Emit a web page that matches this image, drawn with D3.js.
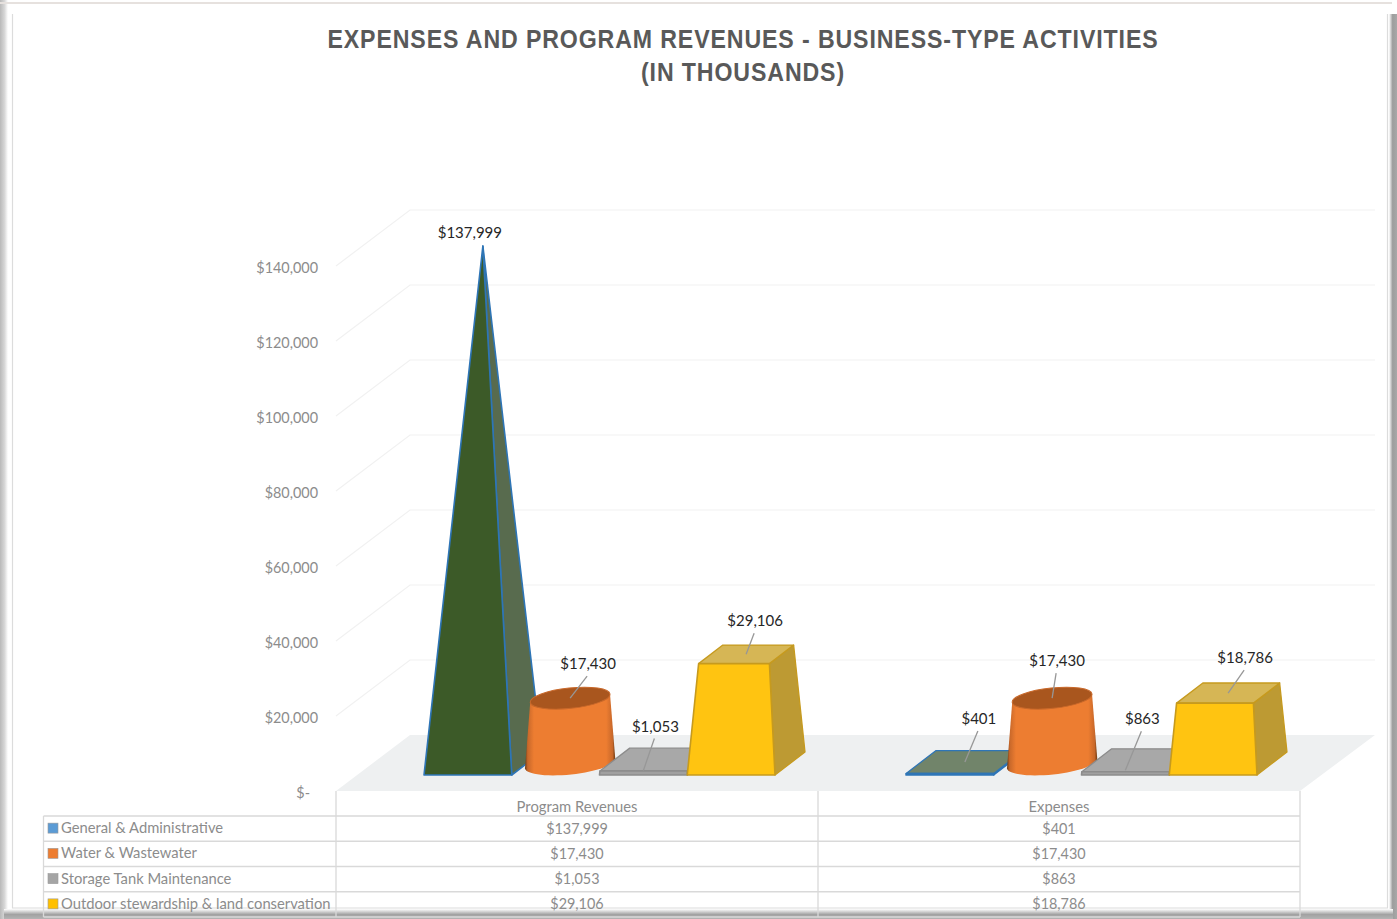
<!DOCTYPE html>
<html>
<head>
<meta charset="utf-8">
<script src="https://cdn.jsdelivr.net/npm/d3@7/dist/d3.min.js"></script>
<style>
  html, body { margin: 0; padding: 0; background: #fff; }
  svg { display: block; }
  text { font-family: Lato, "Open Sans", sans-serif; }
</style>
</head>
<body>
<svg id="chart" width="1397" height="919"></svg>
<script>
const titleLines = ["EXPENSES AND PROGRAM REVENUES - BUSINESS-TYPE ACTIVITIES", "(IN THOUSANDS)"];
const categories = ["Program Revenues", "Expenses"];
const seriesNames = ["General & Administrative", "Water & Wastewater", "Storage Tank Maintenance", "Outdoor stewardship & land conservation"];
const programRevenues = [137999, 17430, 1053, 29106];
const expenses = [401, 17430, 863, 18786];
const axisTicks = [0, 20000, 40000, 60000, 80000, 100000, 120000, 140000];
const legendColors = ["#5b9bd5", "#ed7d31", "#a5a5a5", "#ffc000"];

const W = 1397, H = 919;
const svg = d3.select("#chart");
const money = d3.format("$,");
const tickFormat = v => v === 0 ? "$-" : money(v);

// Plot geometry of the 3-D box
const plot = { left: 336, right: 1300, depthX: 74, depthY: 56, floor: 791 };
const yFront = d3.scaleLinear().domain([0, 140000]).range([plot.floor, plot.floor - 525]);
const yBack = yFront.copy().range([plot.floor - plot.depthY, plot.floor - plot.depthY - 525]);
const heightOf = v => v * 525 / 140000;
const x0 = d3.scaleBand().domain(categories).range([plot.left, plot.right]);
const barBand = d3.scaleBand().domain(seriesNames).range([-153, 198]);

// Bars stand on a line inset from the front of the floor
const baseY = 775, depth = { x: 30, y: -23 };
const taper = h => 1 - h * 0.00177;

const defs = svg.append("defs");
const cyl = defs.append("linearGradient").attr("id", "cylSide");
[[0, "#6f3a12"], [0.03, "#c8682a"], [0.1, "#ed7d31"], [0.9, "#ed7d31"], [0.97, "#c8682a"], [1, "#6f3a12"]]
  .forEach(([o, c]) => cyl.append("stop").attr("offset", o).attr("stop-color", c));

// Soft bevel bands for the page frame
function band(id, horizontal, stops) {
  const g = defs.append("linearGradient").attr("id", id)
    .attr("x1", 0).attr("y1", 0).attr("x2", horizontal ? 1 : 0).attr("y2", horizontal ? 0 : 1);
  stops.forEach(([o, c]) => g.append("stop").attr("offset", o).attr("stop-color", c));
}
band("frameLeft", true, [[0, "#b9b9b9"], [0.55, "#d6d6d6"], [1, "#ffffff"]]);
band("frameRight", true, [[0, "#ffffff"], [0.45, "#9d9d9d"], [1, "#a8a8a8"]]);
band("frameBottom", false, [[0, "#ffffff"], [0.55, "#a2a2a2"], [1, "#b4b4b4"]]);

// Page frame
const frame = svg.append("g");
frame.append("rect").attr("width", W).attr("height", H).attr("fill", "#fff");
frame.append("rect").attr("x", 0).attr("y", 0).attr("width", 8).attr("height", H).attr("fill", "url(#frameLeft)");
frame.append("rect").attr("x", 1389).attr("y", 14).attr("width", 8).attr("height", H - 14).attr("fill", "url(#frameRight)");
frame.append("rect").attr("x", 4).attr("y", 909).attr("width", W - 8).attr("height", 10).attr("fill", "url(#frameBottom)");
frame.append("rect").attr("x", 0).attr("y", 2).attr("width", W - 5).attr("height", 2).attr("fill", "#e6e1de");
frame.append("path").attr("fill", "none").attr("stroke", "#dcdcdc").attr("stroke-width", 1.2)
  .attr("d", "M12.5,14V908H1387.5V14");

const chart = svg.append("g");

// Title
chart.append("g").selectAll("text").data(titleLines).join("text")
  .attr("transform", (d, i) => `translate(743,${48 + i * 33}) scale(0.89,1)`)
  .attr("text-anchor", "middle")
  .attr("fill", "#595959")
  .style("font-family", '"Liberation Sans", sans-serif')
  .style("font-weight", 700).style("font-size", "26px").style("letter-spacing", "1px")
  .text(d => d);

// Walls: horizontal grid on the back, diagonals on the left side
const grid = chart.append("g").attr("stroke", "#f1f1f1").attr("stroke-width", 1.2).attr("fill", "none");
grid.selectAll("path").data(axisTicks.slice(1)).join("path")
  .attr("d", v => `M${plot.left},${yFront(v)}L${plot.left + plot.depthX},${yBack(v)}H${plot.right + plot.depthX + 1}`);

// Floor
chart.append("polygon").attr("fill", "#eef0f1").attr("points", [
  [plot.left, plot.floor], [plot.right, plot.floor],
  [plot.right + plot.depthX + 1, plot.floor - plot.depthY], [plot.left + plot.depthX, plot.floor - plot.depthY]
].join(" "));

// Value axis
const axis = chart.append("g").attr("transform", "translate(321,1.5)")
  .call(d3.axisLeft(yFront).tickValues(axisTicks).tickFormat(tickFormat).tickSize(0).tickPadding(3));
axis.select(".domain").remove();
axis.selectAll("text").attr("fill", "#8c8c8c").style("font-size", "14.4px");
axis.select(".tick text").attr("dx", -8);

// Bar shapes
const styles = {
  pyramid: { front: "#3c5a28", side: "#586b4e", top: "#71846a", stroke: "#2e75b6" },
  cylinder: { top: "#a9561e", stroke: "#c8682a" },
  boxGray: { front: "#a0a0a0", side: "#8d8d8d", top: "#a8a8a8", stroke: "#8c8c8c" },
  boxGold: { front: "#ffc411", side: "#bd9a33", top: "#d6b655", stroke: "#c69a1e" }
};
const shapeOf = ["pyramid", "cylinder", "boxGray", "boxGold"];

const pts = a => a.map(p => p.join(",")).join(" ");

function frustum(g, fx, w, v, st) {
  const h = heightOf(v), s = taper(h);
  const cx = fx + depth.x / 2, cy = baseY + depth.y / 2 - h;
  const hw = w / 2 * s, dx = depth.x / 2 * s, dy = depth.y / 2 * s;
  const tfl = [cx - hw - dx, cy - dy], tfr = [cx + hw - dx, cy - dy];
  const tbl = [cx - hw + dx, cy + dy], tbr = [cx + hw + dx, cy + dy];
  const bl = [fx - w / 2, baseY], br = [fx + w / 2, baseY], bb = [fx + w / 2 + depth.x, baseY + depth.y];
  const face = (p, fill, sw) => g.append("polygon").attr("points", pts(p)).attr("fill", fill)
    .attr("stroke", st.stroke).attr("stroke-width", sw).attr("stroke-linejoin", "round");
  face([br, bb, tbr, tfr], st.side, 1.3);
  face([tfl, tfr, tbr, tbl], st.top, 1.3);
  face([bl, br, tfr, tfl], st.front, 1.6);
  return { x: cx, y: cy };
}

function pyramid(g, fx, w, v, st) {
  // A tall value draws as a pointed pyramid; a tiny one reads as a flat slab
  const h = heightOf(v);
  if (h < 10) return frustum(g, fx, w, v, { ...st, front: st.stroke, side: st.stroke });
  const cx = fx + depth.x / 2, cy = baseY + depth.y / 2 - h;
  const apex = [cx, cy];
  const bl = [fx - w / 2, baseY], br = [fx + w / 2, baseY], bb = [fx + w / 2 + depth.x, baseY + depth.y];
  g.append("polygon").attr("points", pts([br, bb, apex])).attr("fill", st.side)
    .attr("stroke", st.stroke).attr("stroke-width", 1.6).attr("stroke-linejoin", "round");
  g.append("polygon").attr("points", pts([bl, br, apex])).attr("fill", st.front)
    .attr("stroke", st.stroke).attr("stroke-width", 1.6).attr("stroke-linejoin", "round");
  return { x: cx, y: cy };
}

function cylinder(g, fx, w, v, st) {
  const h = heightOf(v), s = taper(h);
  const cx = fx + depth.x / 2 - 0.5, by = baseY + depth.y / 2, ty = by - h;
  const rb = w / 2 + 1.5, ryb = 11, rt = rb * s, ryt = 10.2, tilt = 6 * Math.PI / 180;
  const ex = (c, y, r, ry, a) => [c + r * Math.cos(a) * Math.cos(tilt) + ry * Math.sin(a) * Math.sin(tilt),
                                  y - r * Math.cos(a) * Math.sin(tilt) + ry * Math.sin(a) * Math.cos(tilt)];
  const outline = [];
  d3.range(0, 181, 6).forEach(d => outline.push(ex(cx, by, rb, ryb, d * Math.PI / 180)));
  outline.push(ex(cx, ty, rt, ryt, Math.PI), ex(cx, ty, rt, ryt, 0));
  g.append("polygon").attr("points", pts(outline)).attr("fill", "url(#cylSide)");
  g.append("ellipse").attr("rx", rt).attr("ry", ryt).attr("fill", st.top)
    .attr("stroke", st.stroke).attr("stroke-width", 1)
    .attr("transform", `translate(${cx},${ty}) rotate(-6)`);
  return { x: cx, y: ty };
}

const barData = [programRevenues, expenses];
// Label centre and leader tip, as offsets from the top centre of each bar
const leaderSpec = {
  "0-0": null,
  "0-1": { lx: 17, ly: -34, tx: 0, ty: 0 },
  "0-2": { lx: -4, ly: -33, tx: -15, ty: 11 },
  "0-3": { lx: 8, ly: -33, tx: 0, ty: 0 },
  "1-0": { lx: 13, ly: -43, tx: 0, ty: 0 },
  "1-1": { lx: 4, ly: -37, tx: 0, ty: 0 },
  "1-2": { lx: 1, ly: -41, tx: -15, ty: 10 },
  "1-3": { lx: 16, ly: -35, tx: 0, ty: 0 }
};

const marks = chart.append("g");
const labels = [];
categories.forEach((cat, c) => {
  seriesNames.forEach((name, s) => {
    const v = barData[c][s];
    const fx = x0(cat) + x0.bandwidth() / 2 + barBand(name) + barBand.bandwidth() / 2;
    const w = barBand.bandwidth();
    const g = marks.append("g").attr("class", "bar");
    const kind = shapeOf[s];
    let tip;
    if (kind === "pyramid") tip = pyramid(g, fx, w, v, styles.pyramid);
    else if (kind === "cylinder") tip = cylinder(g, fx, w, v, styles.cylinder);
    else tip = frustum(g, fx, w, v, kind === "boxGray" ? styles.boxGray : styles.boxGold);
    labels.push({ v, c, s, tip });
  });
});

// Data labels and their leader lines
const lab = chart.append("g");
labels.forEach(d => {
  const spec = leaderSpec[`${d.c}-${d.s}`];
  if (spec) {
    lab.append("line")
      .attr("x1", d.tip.x + spec.lx).attr("y1", d.tip.y + spec.ly + 12)
      .attr("x2", d.tip.x + spec.tx).attr("y2", d.tip.y + spec.ty)
      .attr("stroke", "#979797").attr("stroke-width", 1.3);
    lab.append("text").attr("x", d.tip.x + spec.lx + 1).attr("y", d.tip.y + spec.ly + 5)
      .attr("text-anchor", "middle").attr("fill", "#262626").style("font-size", "15px").text(money(d.v));
  } else {
    lab.append("text").attr("x", d.tip.x - 13).attr("y", d.tip.y - 8)
      .attr("text-anchor", "middle").attr("fill", "#262626").style("font-size", "15px").text(money(d.v));
  }
});

// Data table under the plot
const rowY = d3.scaleBand().domain(seriesNames).range([816, 917]);
const table = chart.append("g").attr("stroke", "#d9d9d9").attr("stroke-width", 1.3).attr("fill", "none");
[plot.left, x0(categories[1]), plot.right].forEach(x =>
  table.append("line").attr("x1", x).attr("x2", x).attr("y1", plot.floor).attr("y2", 917));
table.append("line").attr("x1", 43.5).attr("x2", 43.5).attr("y1", 816).attr("y2", 917);
seriesNames.forEach(n =>
  table.append("line").attr("x1", 43.5).attr("x2", plot.right).attr("y1", rowY(n)).attr("y2", rowY(n)));
table.append("line").attr("x1", 43.5).attr("x2", plot.right).attr("y1", 917).attr("y2", 917);

const cellColor = "#8c8c8c";
chart.append("g").selectAll("text").data(categories).join("text")
  .attr("x", d => x0(d) + x0.bandwidth() / 2).attr("y", 812)
  .attr("text-anchor", "middle").attr("fill", cellColor).style("font-size", "14.8px").text(d => d);

seriesNames.forEach((name, s) => {
  const yc = rowY(name) + rowY.bandwidth() / 2;
  chart.append("rect").attr("x", 48).attr("y", yc - 5.5).attr("width", 10).attr("height", 10)
    .attr("fill", legendColors[s]).attr("stroke", "#9a9a9a").attr("stroke-width", 0.6);
  chart.append("text").attr("x", 61).attr("y", yc + 4.5).attr("fill", cellColor)
    .style("font-size", "14.75px").text(name);
  categories.forEach((cat, c) => {
    chart.append("text").attr("x", x0(cat) + x0.bandwidth() / 2).attr("y", yc + 5)
      .attr("text-anchor", "middle").attr("fill", cellColor).style("font-size", "14.4px")
      .text(money(barData[c][s]));
  });
});
</script>
</body>
</html>
